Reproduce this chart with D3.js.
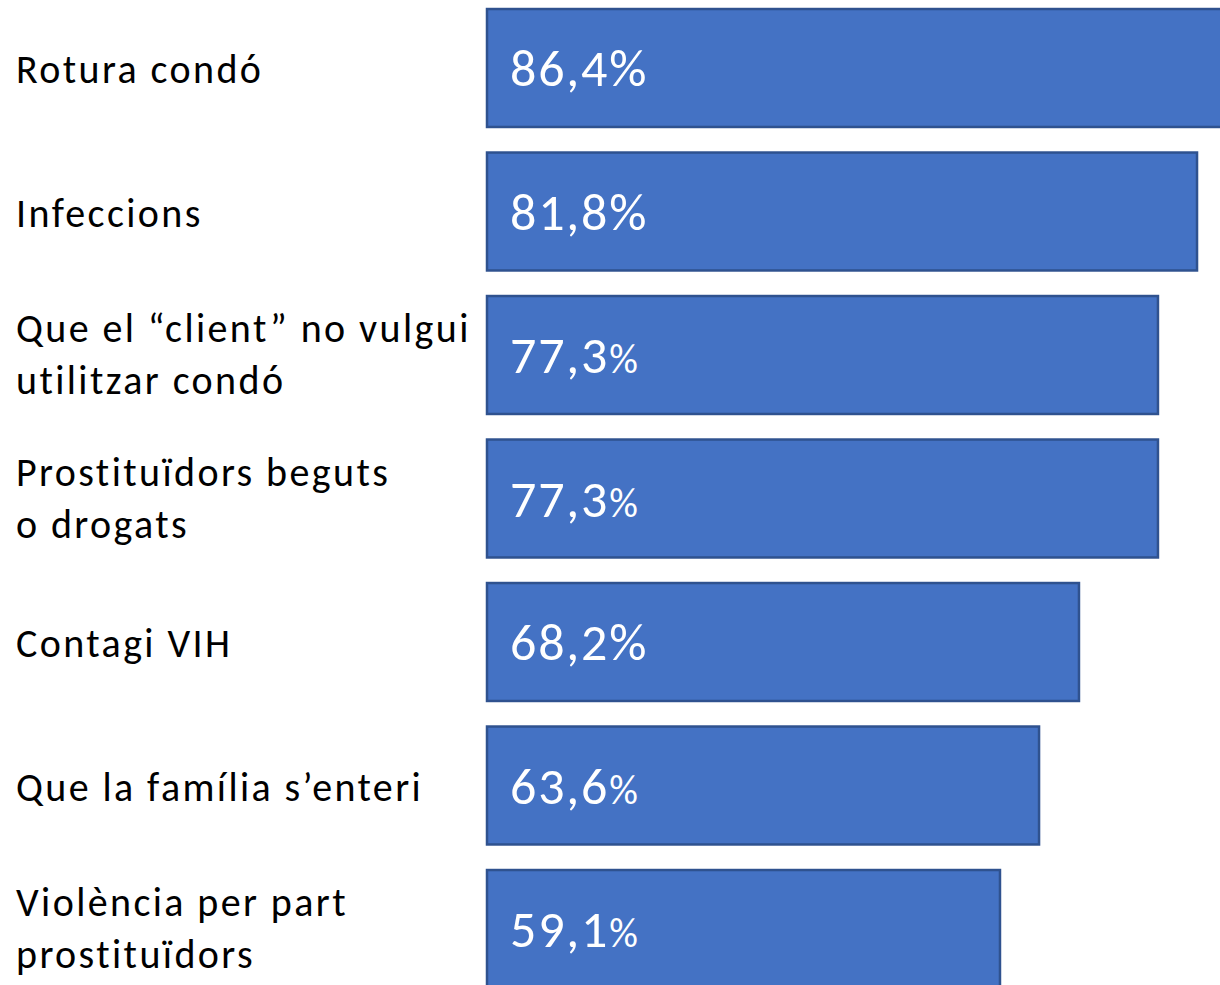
<!DOCTYPE html>
<html><head><meta charset="utf-8">
<script src="https://cdn.jsdelivr.net/npm/d3@7"></script>
<style>
html,body{margin:0;padding:0;background:#fff;}
svg{display:block;}
text{font-family:Carlito, Calibri, Lato, "Open Sans", sans-serif;}
</style></head>
<body>
<svg id="chart" width="1220" height="985"></svg>
<script>
const categories = [
  ["Rotura condó"],
  ["Infeccions"],
  ["Que el “client” no vulgui", "utilitzar condó"],
  ["Prostituïdors beguts", "o drogats"],
  ["Contagi VIH"],
  ["Que la família s’enteri"],
  ["Violència per part", "prostituïdors"]
];
const values = [86.4, 81.8, 77.3, 77.3, 68.2, 63.6, 59.1];
const valueLabels = ["86,4", "81,8", "77,3", "77,3", "68,2", "63,6", "59,1"];
const smallPercent = [false, false, true, true, false, true, true];

const svg = d3.select("#chart");
const keys = categories.map((c, i) => i);
const y = d3.scaleBand().domain(keys).range([-3.75, -3.75 + 7 * 143.5]).paddingInner(0.178).paddingOuter(0.089);
const x = d3.scaleLinear().domain([0, 100]).range([487, 487 + 868]);

const g = svg.append("g");
g.selectAll("rect.bar").data(values).join("rect")
  .attr("class", "bar")
  .attr("x", x(0))
  .attr("y", (d, i) => y(i))
  .attr("width", d => x(d) - x(0))
  .attr("height", y.bandwidth())
  .attr("fill", "#4472C4")
  .attr("stroke", "#2F528F")
  .attr("stroke-width", 2.5);

const vl = g.selectAll("text.val").data(values).join("text")
  .attr("class", "val")
  .attr("x", x(0) + 23)
  .attr("y", (d, i) => y(i) + y.bandwidth() / 2 + 18)
  .attr("fill", "#fff")
  .attr("font-size", 52)
  .attr("letter-spacing", 1.8);
vl.append("tspan").text((d, i) => valueLabels[i]);
vl.append("tspan").text("%").attr("font-size", (d, i) => smallPercent[i] ? 40 : 52);

const cl = g.selectAll("text.cat").data(categories).join("text")
  .attr("class", "cat")
  .attr("x", 16)
  .attr("fill", "#000")
  .attr("font-size", 40)
  .attr("letter-spacing", 2.4);
cl.each(function(lines, i) {
  const cy = y(i) + y.bandwidth() / 2;
  const t = d3.select(this);
  if (lines.length === 1) {
    t.append("tspan").attr("x", 16).attr("y", cy + 15).text(lines[0]);
  } else {
    lines.forEach((ln, j) => t.append("tspan").attr("x", 16).attr("y", cy - 13 + 52 * j).text(ln));
  }
});
</script>
</body></html>
